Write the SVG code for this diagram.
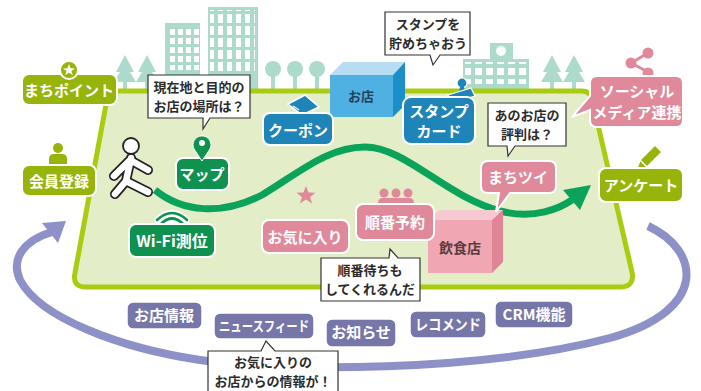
<svg xmlns="http://www.w3.org/2000/svg" width="701" height="391" viewBox="0 0 701 391">
<style>
  .lbl { font-family: "Noto Sans CJK JP", "Noto Sans", sans-serif; font-weight: 700; fill: #fff; text-anchor: middle; }
  .dark { font-family: "Noto Sans CJK JP", "Noto Sans", sans-serif; font-weight: 700; fill: #2b2b2b; text-anchor: middle; }
  .bub { fill: #fff; stroke: #333; stroke-width: 1.2; stroke-linejoin: miter; }
  .olive { fill: #97b40a; stroke: #fff; stroke-width: 2; }
  .dgreen { fill: #0f9150; stroke: #fff; stroke-width: 2; }
  .blue { fill: #1f85b9; stroke: #fff; stroke-width: 2; }
  .pink { fill: #e0899a; stroke: #fff; stroke-width: 2; }
  .tag { fill: #7677a8; stroke: #fff; stroke-width: 1.5; }
  .bld { fill: #acdacb; }
</style>
<defs>
  <pattern id="win4" x="0" y="0" width="8" height="9" patternUnits="userSpaceOnUse">
    <rect x="2" y="2" width="5" height="6" fill="#fff"/>
  </pattern>
  <pattern id="win5" x="0" y="0" width="9" height="12" patternUnits="userSpaceOnUse">
    <rect x="2" y="2" width="5" height="9" fill="#fff"/>
  </pattern>
  <pattern id="win6" x="0" y="0" width="11" height="11" patternUnits="userSpaceOnUse">
    <rect x="2" y="2" width="7" height="7" fill="#fff"/>
  </pattern>
</defs>

<!-- background scenery -->
<g id="scenery">
  <!-- cone trees left -->
  <path class="bld" d="M125,55 L116,72 L120,72 L114,82 L123,82 L123,92 L127,92 L127,82 L136,82 L130,72 L134,72 Z"/>
  <path class="bld" d="M147,55 L138,72 L142,72 L136,82 L145,82 L145,92 L149,92 L149,82 L158,82 L152,72 L156,72 Z"/>
  <!-- tower blocks -->
  <rect class="bld" x="165" y="23" width="35" height="70"/>
  <rect x="167" y="26" width="32" height="44" fill="url(#win4)"/>
  <rect class="bld" x="208" y="7" width="50" height="86"/>
  <rect x="210" y="10" width="45" height="62" fill="url(#win5)"/>
  <!-- round trees -->
  <g class="bld">
    <circle cx="273" cy="69" r="8"/><rect x="271" y="72" width="4" height="20"/>
    <circle cx="295" cy="69" r="8"/><rect x="293" y="72" width="4" height="20"/>
    <circle cx="317" cy="69" r="8"/><rect x="315" y="72" width="4" height="20"/>
  </g>
  <!-- school building -->
  <rect class="bld" x="463" y="59" width="66" height="34"/>
  <rect class="bld" x="490" y="43" width="23" height="18"/>
  <circle cx="501" cy="51" r="5" fill="#fff"/>
  <rect x="465" y="62" width="66" height="22" fill="url(#win6)"/>
  <!-- cone trees right -->
  <path class="bld" d="M552,55 L543,72 L547,72 L541,82 L550,82 L550,92 L554,92 L554,82 L563,82 L557,72 L561,72 Z"/>
  <path class="bld" d="M574,55 L565,72 L569,72 L563,82 L572,82 L572,92 L576,92 L576,82 L585,82 L579,72 L583,72 Z"/>
</g>

<!-- town ground -->
<g id="ground">
  <path d="M116,91 L582,91 Q590,91 592,99 L632,272 Q635,287 620,287 L86,287 Q72,287 75,273 L107,99 Q109,91 116,91 Z" fill="#e3eec9" stroke="#a9cb10" stroke-width="5" stroke-linejoin="round"/>
</g>

<!-- connectors: visit route and return loop -->
<g id="connectors">
  <path d="M155,190 C182,212 222,216 262,195 C300,172 328,147 365,147 C405,147 445,196 500,211 C535,220 560,208 572,200" fill="none" stroke="#0ba35a" stroke-width="7"/>
  <path d="M591,185 L563,190 L580,210 Z" fill="#0ba35a"/>
  <path d="M648,226 C700,250 710,310 610,338 C480,372 280,372 200,360 C120,348 40,318 20,280 C10,258 25,240 52,232" fill="none" stroke="#8e90c8" stroke-width="8"/>
  <path d="M66,221 L42,223 L58,243 Z" fill="#8e90c8"/>
</g>

<!-- shop cube -->
<g id="shop">
  <path d="M330,75 L343,62 L405,62 L393,75 Z" fill="#b7dcf3"/>
  <path d="M393,75 L405,62 L405,105 L393,117 Z" fill="#1a8fc8"/>
  <rect x="330" y="75" width="63" height="42" fill="#4fb0e2"/>
  <text class="dark" x="361" y="101" font-size="13" style="fill:#23415a">お店</text>
</g>

<!-- restaurant cube -->
<g id="restaurant">
  <path d="M428,220 L440,210 L503,210 L492,220 Z" fill="#f6c9d1"/>
  <path d="M492,220 L503,210 L503,262 L492,273 Z" fill="#e08595"/>
  <rect x="428" y="220" width="64" height="53" fill="#f0a7b3"/>
  <text class="dark" x="460" y="253" font-size="14" style="fill:#5a3a40">飲食店</text>
</g>

<!-- walker -->
<g id="walker" fill="none" stroke-linecap="round" stroke-linejoin="round">
  <path d="M131,158 L126,181 M129,161 L114,176 M132,161 L148,170 M126,181 L121,187 L115,194 M126,181 L136,186 L148,192" stroke="#222" stroke-width="10"/>
  <path d="M131,158 L126,181 M129,161 L114,176 M132,161 L148,170 M126,181 L121,187 L115,194 M126,181 L136,186 L148,192" stroke="#fff" stroke-width="6.5"/>
  <circle cx="131" cy="146" r="8" fill="#fff" stroke="#222" stroke-width="1.8"/>
</g>

<!-- feature labels -->
<g id="machi-point">
  <rect class="olive" x="22" y="74" width="95" height="31" rx="7"/>
  <circle cx="69" cy="70" r="9" class="olive"/>
  <path d="M69,64 L70.6,68.3 L75,68.4 L71.5,71 L72.8,75.3 L69,72.8 L65.2,75.3 L66.5,71 L63,68.4 L67.4,68.3 Z" fill="#fff"/>
  <text class="lbl" x="69" y="96" font-size="15">まちポイント</text>
</g>

<g id="member">
  <circle cx="58" cy="148" r="5" fill="#97b40a"/>
  <path d="M49,166 L49,159 Q49,154 54,154 L62,154 Q67,154 67,159 L67,166 Z" fill="#97b40a"/>
  <rect class="olive" x="22" y="165" width="74" height="31" rx="7"/>
  <text class="lbl" x="59" y="187" font-size="15">会員登録</text>
</g>

<g id="map">
  <rect class="dgreen" x="176" y="158" width="53" height="32" rx="7"/>
  <path d="M202,161 L194,149 A9,9 0 1 1 210,149 Z" fill="#0f9150" stroke="#fff" stroke-width="1"/>
  <circle cx="202" cy="143" r="3" fill="#fff"/>
  <text class="lbl" x="202" y="180" font-size="15">マップ</text>
</g>

<g id="wifi" fill="none" stroke-linecap="round">
  <path d="M157,220 Q172,206 187,220 M161,224 Q172,213 183,224 M165,228 Q172,221 179,228" stroke="#fff" stroke-width="6"/>
  <path d="M157,220 Q172,206 187,220 M161,224 Q172,213 183,224 M165,228 Q172,221 179,228" stroke="#0f9150" stroke-width="2.6"/>
  <rect class="dgreen" x="129" y="224" width="86" height="33" rx="7"/>
  <text class="lbl" x="172" y="247" font-size="16">Wi-Fi測位</text>
</g>

<g id="coupon">
  <path d="M288,104 L305,95 L319,107 L302,115 Z" fill="#1f85b9" stroke="#fff" stroke-width="1.5"/>
  <path d="M293,106 L299,110" stroke="#fff" stroke-width="1.2"/>
  <rect class="blue" x="263" y="113" width="70" height="32" rx="7"/>
  <text class="lbl" x="298" y="136" font-size="15">クーポン</text>
</g>

<g id="stamp-card">
  <circle cx="462" cy="83" r="5" fill="#1f85b9" stroke="#fff" stroke-width="1.2"/>
  <path d="M460,87 L464,87 L465,92 L459,92 Z" fill="#1f85b9"/>
  <path d="M448,95 L471,88 L475,96 L452,103 Z" fill="#1f85b9" stroke="#fff" stroke-width="1.2"/>
  <rect class="blue" x="403" y="97" width="72" height="47" rx="8"/>
  <text class="lbl" x="439" y="117" font-size="15">スタンプ</text>
  <text class="lbl" x="439" y="137" font-size="15">カード</text>
</g>

<g id="social">
  <g stroke="#e0899a" stroke-width="3" fill="#e0899a">
    <line x1="648" y1="53" x2="631" y2="63"/>
    <line x1="631" y1="63" x2="648" y2="72"/>
    <circle cx="648" cy="53" r="4"/><circle cx="631" cy="63" r="4"/><circle cx="648" cy="73" r="4"/>
  </g>
  <path d="M597,76 L676,76 Q683,76 683,83 L683,120 Q683,127 676,127 L597,127 Q590,127 590,120 L590,110 L572,117 L590,96 L590,83 Q590,76 597,76 Z" class="pink"/>
  <text class="lbl" x="637" y="97" font-size="15">ソーシャル</text>
  <text class="lbl" x="637" y="118" font-size="15">メディア連携</text>
</g>

<g id="survey">
  <path d="M636,171 L640,160 L655,145 L662,152 L647,167 Z" fill="#97b40a" stroke="#fff" stroke-width="1.5" stroke-linejoin="round"/>
  <path d="M640,160 L647,167" stroke="#fff" stroke-width="1.5"/>
  <rect class="olive" x="599" y="168" width="84" height="34" rx="7"/>
  <text class="lbl" x="641" y="191" font-size="15">アンケート</text>
</g>

<g id="machi-tsui">
  <path d="M488,161 L549,161 Q556,161 556,168 L556,186 Q556,193 549,193 L510,193 L496,212 L499,193 L488,193 Q481,193 481,186 L481,168 Q481,161 488,161 Z" class="pink"/>
  <text class="lbl" x="518" y="183" font-size="15">まちツイ</text>
</g>

<g id="favorite">
  <path d="M306,186 L308.6,192.6 L315.5,192.8 L310.1,197 L312.1,203.6 L306,199.6 L299.9,203.6 L301.9,197 L296.5,192.8 L303.4,192.6 Z" fill="#e0899a"/>
  <rect class="pink" x="262" y="220" width="87" height="33" rx="7"/>
  <text class="lbl" x="305" y="243" font-size="15">お気に入り</text>
</g>

<g id="queue">
  <g fill="#e0899a">
    <circle cx="384" cy="193" r="4.5"/><circle cx="396" cy="193" r="4.5"/><circle cx="408" cy="193" r="4.5"/>
    <path d="M378,206 L378,203 Q378,198 383,198 L409,198 Q414,198 414,203 L414,206 Z"/>
  </g>
  <rect class="pink" x="356" y="204" width="78" height="36" rx="7"/>
  <text class="lbl" x="395" y="228" font-size="15">順番予約</text>
</g>

<!-- speech bubbles -->
<g id="bubble-map">
  <path class="bub" d="M148,75 L250,75 L250,118 L210,118 L203,129 L203,118 L148,118 Z"/>
  <text class="dark" x="199" y="92" font-size="13">現在地と目的の</text>
  <text class="dark" x="199" y="111" font-size="13">お店の場所は？</text>
</g>

<g id="bubble-stamp">
  <path class="bub" d="M385,12 L470,12 L470,55 L440,55 L433,65 L430,55 L385,55 Z"/>
  <text class="dark" x="428" y="29" font-size="13">スタンプを</text>
  <text class="dark" x="428" y="48" font-size="13">貯めちゃおう</text>
</g>

<g id="bubble-review">
  <path class="bub" d="M488,103 L566,103 L566,146 L515,146 L508,156 L507,146 L488,146 Z"/>
  <text class="dark" x="527" y="120" font-size="13">あのお店の</text>
  <text class="dark" x="527" y="139" font-size="13">評判は？</text>
</g>

<g id="bubble-queue">
  <path class="bub" d="M321,258 L389,258 L390,249 L398,258 L420,258 L420,301 L321,301 Z"/>
  <text class="dark" x="370" y="275" font-size="13">順番待ちも</text>
  <text class="dark" x="370" y="294" font-size="13">してくれるんだ</text>
</g>

<!-- information tags -->
<g id="tag-shopinfo">
  <rect class="tag" x="127" y="302" width="75" height="27" rx="6"/>
  <text class="lbl" x="164" y="321" font-size="15">お店情報</text>
</g>
<g id="tag-newsfeed">
  <rect class="tag" x="214" y="313" width="100" height="26" rx="6"/>
  <text class="lbl" x="264" y="331" font-size="14" textLength="90" lengthAdjust="spacingAndGlyphs">ニュースフィード</text>
</g>
<g id="tag-notice">
  <rect class="tag" x="326" y="319" width="70" height="28" rx="6"/>
  <text class="lbl" x="361" y="338" font-size="15">お知らせ</text>
</g>
<g id="tag-recommend">
  <rect class="tag" x="410" y="311" width="76" height="27" rx="6"/>
  <text class="lbl" x="448" y="330" font-size="15" textLength="66" lengthAdjust="spacingAndGlyphs">レコメンド</text>
</g>
<g id="tag-crm">
  <rect class="tag" x="495" y="301" width="78" height="27" rx="6"/>
  <text class="lbl" x="534" y="320" font-size="15">CRM機能</text>
</g>

<g id="bubble-info">
  <path class="bub" d="M208,351 L261,351 L266,341 L275,351 L338,351 L338,395 L208,395 Z"/>
  <text class="dark" x="273" y="367" font-size="13">お気に入りの</text>
  <text class="dark" x="273" y="386" font-size="13">お店からの情報が！</text>
</g>
</svg>
